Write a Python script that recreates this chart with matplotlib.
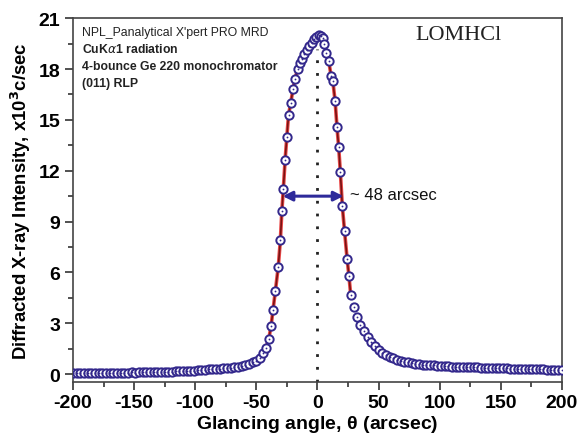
import matplotlib
matplotlib.use('Agg')
import matplotlib.pyplot as plt
import numpy as np

plt.rcParams['axes.unicode_minus'] = False

# rocking curve (angle in arcsec, intensity in 10^3 c/sec)
left_tail_x = [-200, -197, -194, -191, -188, -185, -182, -179, -176, -173, -170, -167,
               -164, -161, -158, -155, -152, -149, -146, -143, -140, -137, -134, -131,
               -128, -125, -122, -119, -116, -113, -110, -107, -104, -101, -98, -95,
               -92, -89, -86, -83, -80, -77, -74, -71, -68, -65, -62, -59, -56, -53, -50, -47]
left_tail_y = [0.05, 0.04, 0.06, 0.05, 0.05, 0.06, 0.05, 0.07, 0.06, 0.06, 0.07, 0.07,
               0.08, 0.07, 0.09, 0.08, 0.10, 0.09, 0.10, 0.11, 0.11, 0.12, 0.12, 0.13,
               0.13, 0.14, 0.15, 0.15, 0.16, 0.17, 0.18, 0.18, 0.20, 0.21, 0.23, 0.24,
               0.26, 0.28, 0.30, 0.31, 0.33, 0.35, 0.37, 0.39, 0.42, 0.45, 0.48, 0.53, 0.60, 0.69, 0.80, 0.98]

peak_x = [-44.6, -42.0, -39.8, -37.9, -36.3, -34.4, -32.0, -30.3, -29.1, -27.9, -26.4, -25.0,
          -23.6, -21.8, -20.0, -18.3, -16.2, -14.3, -12.5, -10.6, -8.7, -6.6, -4.5, -2.6,
          -0.8, 1.0, 2.6, 4.2, 5.8, 7.4, 9.2, 11.2, 12.6, 14.5, 16.0, 17.4, 18.8, 20.4,
          22.2, 24.3, 25.8, 27.3, 29.6]
peak_y = [1.23, 1.57, 2.07, 2.85, 3.80, 4.90, 6.35, 7.90, 9.60, 10.90, 12.65, 14.00,
          15.30, 16.00, 16.80, 17.40, 18.00, 18.35, 18.60, 18.90, 19.10, 19.35, 19.55, 19.75,
          19.90, 20.00, 19.95, 19.80, 19.50, 18.95, 18.50, 17.60, 17.30, 16.10, 14.60, 13.40, 11.90, 9.90,
          8.45, 6.80, 5.80, 4.65, 3.95]

right_tail_x = [32, 35, 38, 41, 44, 47, 50, 53, 56, 59, 62, 65, 68, 71, 74, 77, 80, 83,
                86, 89, 92, 95, 98, 101, 104, 107, 110, 113, 116, 119, 122, 125, 128, 131,
                134, 137, 140, 143, 146, 149, 152, 155, 158, 161, 164, 167, 170, 173, 176,
                179, 182, 185, 188, 191, 194, 197, 200]
right_tail_y = [3.40, 2.90, 2.52, 2.22, 1.92, 1.66, 1.44, 1.26, 1.13, 1.02, 0.93, 0.86,
                0.80, 0.74, 0.70, 0.66, 0.62, 0.60, 0.57, 0.55, 0.53, 0.52, 0.50, 0.49,
                0.48, 0.47, 0.45, 0.45, 0.43, 0.43, 0.42, 0.41, 0.40, 0.40, 0.38, 0.38,
                0.37, 0.37, 0.36, 0.35, 0.35, 0.34, 0.33, 0.33, 0.32, 0.32, 0.31, 0.30,
                0.30, 0.29, 0.29, 0.28, 0.27, 0.27, 0.26, 0.25, 0.25]

fwhm_left, fwhm_right, fwhm_level = -28.4, 21.3, 10.5

x = np.array(left_tail_x + peak_x + right_tail_x)
y = np.array(left_tail_y + peak_y + right_tail_y)

navy = '#33288c'

fig = plt.figure(figsize=(5.81, 4.35), dpi=100)
ax = fig.add_axes([0.1256, 0.12, 0.8414, 0.836])

# fit line over the peak
fit = (x >= -42.5) & (x <= 28)
ax.plot(x[fit], y[fit], color='#e84a4a', lw=2.6, zorder=2)
ax.plot(x[fit], y[fit], color='#7a1212', lw=1.2, zorder=2)

# centre line
ax.plot([0, 0], [-0.45, 19.2], color='#222222', lw=2, linestyle=(0, (1, 3.6)), zorder=1)

ax.plot(x, y, 'o', ms=6, mfc='white', mec=navy, mew=1.4, zorder=3)
ax.plot(x, y, 'o', ms=1.3, mfc=navy, mec=navy, mew=0, zorder=4)

# FWHM arrow
ax.annotate('', xy=(fwhm_left, fwhm_level), xytext=(fwhm_right, fwhm_level),
            arrowprops=dict(arrowstyle='<|-|>', color='#2e2a9a', lw=2.2,
                            mutation_scale=14, shrinkA=0, shrinkB=0), zorder=5)
ax.text(27, fwhm_level + 0.1, '~ 48 arcsec', fontsize=12, family='Liberation Sans',
        va='center', ha='left', color='#111111')

ax.text(0.70, 0.955, 'LOMHCl', transform=ax.transAxes, fontsize=16,
        family='Liberation Serif', va='center', ha='left', color='#222222')

info = ["NPL_Panalytical X'pert PRO MRD", 'CuK$\\alpha$1 radiation',
        '4-bounce Ge 220 monochromator', '(011) RLP']
for i, line in enumerate(info):
    ax.text(0.018, 0.963 - i * 0.047, line, transform=ax.transAxes, fontsize=8.8,
            family='Liberation Sans', fontweight='normal' if i == 0 else 'bold',
            va='center', ha='left', color='#222222')

ax.set_xlim(-200, 200)
ax.set_ylim(-0.45, 21)
ax.set_xticks([-200, -150, -100, -50, 0, 50, 100, 150, 200])
ax.set_xticks(np.arange(-175, 200, 50), minor=True)
ax.set_yticks([0, 3, 6, 9, 12, 15, 18, 21])
ax.set_yticks(np.arange(1.5, 21, 3), minor=True)

for lab in ax.get_xticklabels() + ax.get_yticklabels():
    lab.set_fontsize(14)
    lab.set_fontweight('bold')
    lab.set_family('Liberation Sans')
ax.tick_params(which='major', direction='out', length=6, width=1.2, color='#333333', pad=3)
ax.tick_params(which='minor', direction='out', length=3.5, width=1.2, color='#333333')
for s in ax.spines.values():
    s.set_color('#444444')
    s.set_linewidth(1.2)

ax.set_xlabel('Glancing angle, $\\mathregular{\\theta}$ (arcsec)', fontsize=14,
              fontweight='bold', family='Liberation Sans', labelpad=1)
ax.set_ylabel('Diffracted X-ray Intensity, x10$^{\\mathbf{3}}$c/sec', fontsize=13.3,
              fontweight='bold', family='Liberation Sans', labelpad=4)

fig.savefig('out.png', dpi=100)
